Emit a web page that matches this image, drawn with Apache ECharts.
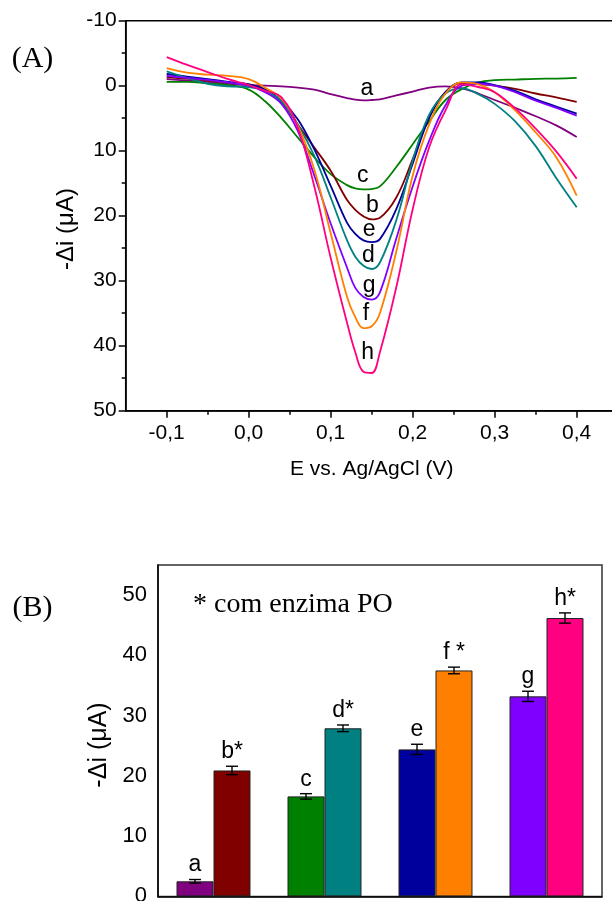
<!DOCTYPE html>
<html>
<head>
<meta charset="utf-8">
<script src="https://cdn.jsdelivr.net/npm/echarts@6/dist/echarts.min.js"></script>
<style>
  html, body { margin: 0; padding: 0; background: #fff; }
  #chart { width: 612px; height: 901px; }
</style>
</head>
<body>
<div id="chart"></div>
<script>
// panel (A): differential pulse voltammograms, -delta i (uA) vs E (V)
const potentials = [-0.1, -0.075, -0.05, -0.025, 0, 0.02, 0.04, 0.06, 0.08, 0.10, 0.12, 0.13, 0.14, 0.15, 0.16, 0.18, 0.20, 0.22, 0.24, 0.26, 0.28, 0.30, 0.325, 0.35, 0.375, 0.40];
const currentA = [-1.0, -0.8, -0.6, -0.3, -0.1, 0.0, 0.1, 0.3, 0.6, 1.3, 1.9, 2.15, 2.25, 2.2, 2.1, 1.5, 0.9, 0.3, 0.1, 0.4, 1.2, 2.2, 3.4, 4.7, 6.1, 7.9];
const currentB = [-1.3, -1.1, -0.8, -0.5, -0.2, 0.6, 2.5, 6.0, 9.5, 13.1, 17.6, 19.1, 20.1, 20.55, 20.3, 17.2, 11.3, 4.8, 1.0, -0.4, -0.3, 0.0, 0.5, 1.2, 1.8, 2.5];
const currentC = [-0.6, -0.6, -0.35, -0.1, 0.6, 2.4, 5.0, 8.0, 11.0, 13.6, 15.3, 15.8, 15.95, 15.9, 15.5, 12.5, 9.0, 5.5, 2.2, 0.5, -0.5, -0.85, -0.95, -1.05, -1.1, -1.2];
const currentD = [-2.2, -1.2, -0.3, 0.1, 0.2, 0.8, 2.4, 6.0, 10.8, 17.2, 23.8, 26.3, 27.7, 28.2, 27.2, 20.7, 11.5, 4.5, 1.2, 0.4, 1.3, 2.8, 5.5, 9.3, 14.2, 18.7];
const currentE = [-1.8, -1.4, -1.0, -0.6, -0.2, 0.6, 2.3, 5.2, 9.8, 15.4, 21.1, 22.8, 23.8, 24.05, 23.6, 19.0, 12.0, 5.0, 1.0, -0.5, -0.5, -0.1, 0.8, 2.1, 3.2, 4.3];
const currentF = [-2.7, -2.0, -1.7, -1.5, -1.0, 0.3, 2.0, 6.2, 12.9, 22.7, 32.5, 35.6, 37.3, 37.0, 35.0, 25.5, 13.8, 6.0, 1.2, -0.5, -0.2, 1.0, 3.8, 7.2, 11.0, 16.9];
const currentG = [-1.5, -1.2, -0.9, -0.5, 0.0, 1.0, 2.8, 7.0, 13.8, 21.2, 28.0, 31.1, 32.5, 32.9, 31.8, 23.5, 15.5, 8.5, 3.0, 0.0, -0.3, 0.0, 1.0, 2.3, 3.4, 4.6];
const currentH = [-4.4, -3.2, -2.1, -1.0, -0.1, 0.8, 1.8, 6.5, 15.5, 26.5, 36.5, 41.0, 44.0, 44.2, 41.0, 31.0, 19.0, 9.5, 3.8, -0.2, 0.2, 1.0, 3.5, 6.6, 10.1, 14.3];
const xTicksA = [-0.1, 0, 0.1, 0.2, 0.3, 0.4];
const xMinorA = [-0.05, 0.05, 0.15, 0.25, 0.35];

// panel (B): peak currents, without / with the PO enzyme
const groups = ['a/b', 'c/d', 'e/f', 'g/h'];
const withoutEnzyme = [2.5, 16.6, 24.4, 33.2];
const withEnzyme = [20.9, 27.9, 37.5, 46.2];
const errWithout = [0.3, 0.45, 0.85, 0.85];
const errWith = [0.7, 0.55, 0.55, 0.85];
const labelsWithout = ['a', 'c', 'e', 'g'];
const labelsWith = ['b*', 'd*', 'f *', 'h*'];
const yTicksB = [0, 10, 20, 30, 40, 50];
const yMinorB = [5, 15, 25, 35, 45];

const SANS = '"Liberation Sans", Arial, sans-serif';
const SERIF = '"Liberation Serif", "Times New Roman", serif';
const BLACK = '#000';

const curves = [
  { name: 'a', values: currentA, color: '#800080', at: [0.144, 0.5] },
  { name: 'c', values: currentC, color: '#008000', at: [0.139, 13.8] },
  { name: 'b', values: currentB, color: '#800000', at: [0.151, 18.4] },
  { name: 'e', values: currentE, color: '#00009c', at: [0.147, 22.2] },
  { name: 'd', values: currentD, color: '#008080', at: [0.146, 26.1] },
  { name: 'g', values: currentG, color: '#8000ff', at: [0.147, 30.7] },
  { name: 'f', values: currentF, color: '#ff8000', at: [0.143, 35.1] },
  { name: 'h', values: currentH, color: '#ff0080', at: [0.145, 41.0] }
];
const colorsWithout = ['#800080', '#008000', '#00009c', '#8000ff'];
const colorsWith = ['#800000', '#008080', '#ff8000', '#ff0080'];

const commaFmt = v => v.toFixed(1).replace('.', ',');
const axisLine = { show: true, onZero: false, lineStyle: { color: BLACK, width: 1.5 } };
const noLine = { show: false, onZero: false };

const lineSeries = curves.map(c => ({
  type: 'line',
  xAxisIndex: 0,
  yAxisIndex: 0,
  data: potentials.map((e, i) => [e, c.values[i]]),
  smooth: 0.4,
  symbol: 'none',
  lineStyle: { color: c.color, width: 1.8 },
  markPoint: {
    symbol: 'circle',
    symbolSize: 1,
    itemStyle: { color: 'transparent' },
    label: { show: true, position: 'inside', formatter: c.name, color: BLACK, fontFamily: SANS, fontSize: 23 },
    data: [{ coord: c.at }]
  }
}));

function errorSeries(values, errs, labels, side) {
  return {
    type: 'custom',
    xAxisIndex: 2,
    yAxisIndex: 1,
    z: 5,
    data: values.map((v, i) => [i, v, errs[i]]),
    renderItem(params, api) {
      const i = api.value(0), v = api.value(1), e = api.value(2);
      const band = api.size([1, 0])[0];
      const x = api.coord([i, v])[0] + side * band / 6;
      const top = api.coord([i, v + e])[1];
      const bot = api.coord([i, v - e])[1];
      const st = { stroke: BLACK, lineWidth: 1.4 };
      return {
        type: 'group',
        children: [
          { type: 'line', shape: { x1: x, y1: top, x2: x, y2: bot }, style: st },
          { type: 'line', shape: { x1: x - 6, y1: top, x2: x + 6, y2: top }, style: st },
          { type: 'line', shape: { x1: x - 6, y1: bot, x2: x + 6, y2: bot }, style: st },
          {
            type: 'text', x: x, y: top - 3,
            style: { text: labels[params.dataIndex], textAlign: 'center', textVerticalAlign: 'bottom',
                     font: '23px ' + SANS, fill: BLACK }
          }
        ]
      };
    }
  };
}

function barSeries(values, colors) {
  return {
    type: 'bar',
    xAxisIndex: 2,
    yAxisIndex: 1,
    barWidth: '33.33%',
    barGap: '0%',
    data: values.map((v, i) => ({ value: v, itemStyle: { color: colors[i] } })),
    itemStyle: { borderColor: '#222', borderWidth: 1 }
  };
}

const chart = echarts.init(document.getElementById('chart'));
chart.setOption({
  backgroundColor: '#fff',
  animation: false,
  grid: [
    { left: 125.7, top: 20.7, width: 492, height: 390, outerBoundsMode: 'none', containLabel: false,
      show: true, borderColor: BLACK, borderWidth: 1.5 },
    { left: 158, top: 565, width: 444, height: 331.4, outerBoundsMode: 'none', containLabel: false,
      show: true, borderColor: '#333', borderWidth: 1.5 }
  ],
  xAxis: [
    {
      type: 'value', gridIndex: 0, position: 'bottom', min: -0.15, max: 0.45,
      axisLine,
      axisTick: { customValues: xTicksA, length: 7, lineStyle: { color: BLACK, width: 1.5 } },
      axisLabel: { customValues: xTicksA, formatter: commaFmt, color: BLACK, fontFamily: SANS, fontSize: 21, margin: 12 },
      splitLine: { show: false },
      name: 'E vs. Ag/AgCl (V)', nameLocation: 'middle', nameGap: 48,
      nameTextStyle: { color: BLACK, fontFamily: SANS, fontSize: 21 }
    },
    {
      type: 'value', gridIndex: 0, position: 'bottom', min: -0.15, max: 0.45,
      axisLine: noLine,
      axisTick: { customValues: xMinorA, length: 4, lineStyle: { color: BLACK, width: 1.5 } },
      axisLabel: { show: false },
      splitLine: { show: false }
    },
    {
      type: 'category', gridIndex: 1, data: groups,
      axisLine, axisTick: { show: false }, axisLabel: { show: false }
    }
  ],
  yAxis: [
    {
      type: 'value', gridIndex: 0, position: 'left', inverse: true, min: -10, max: 50, interval: 10,
      axisLine,
      axisTick: { length: 7, lineStyle: { color: BLACK, width: 1.5 } },
      minorTick: { show: true, splitNumber: 2, length: 4, lineStyle: { color: BLACK, width: 1.5 } },
      axisLabel: { color: BLACK, fontFamily: SANS, fontSize: 21, margin: 9 },
      splitLine: { show: false }
    },
    {
      type: 'value', gridIndex: 1, position: 'left', min: 0, max: 55,
      axisLine,
      axisTick: { customValues: yTicksB, length: 7, lineStyle: { color: BLACK, width: 1.5 } },
      axisLabel: { customValues: yTicksB, color: BLACK, fontFamily: SANS, fontSize: 22, margin: 11 },
      splitLine: { show: false }
    },
    {
      type: 'value', gridIndex: 1, position: 'left', min: 0, max: 55,
      axisLine: noLine,
      axisTick: { customValues: yMinorB, length: 4, lineStyle: { color: BLACK, width: 1.5 } },
      axisLabel: { show: false },
      splitLine: { show: false }
    }
  ],
  graphic: [
    { type: 'text', x: 32.5, y: 59.5, style: { text: '(A)', font: '30px ' + SERIF, fill: BLACK, textAlign: 'center', textVerticalAlign: 'middle' } },
    { type: 'text', x: 32.5, y: 608, style: { text: '(B)', font: '30px ' + SERIF, fill: BLACK, textAlign: 'center', textVerticalAlign: 'middle' } },
    { type: 'text', x: 66, y: 229, rotation: Math.PI / 2, style: { text: '-\u0394i (\u03bcA)', font: '24px ' + SANS, fill: BLACK, textAlign: 'center', textVerticalAlign: 'middle' } },
    { type: 'text', x: 99, y: 745, rotation: Math.PI / 2, style: { text: '-\u0394i (\u03bcA)', font: '25px ' + SANS, fill: BLACK, textAlign: 'center', textVerticalAlign: 'middle' } },
    { type: 'text', x: 193, y: 605, style: { text: '* com enzima PO', font: '28px ' + SERIF, fill: BLACK, textAlign: 'left', textVerticalAlign: 'middle' } }
  ],
  series: [
    ...lineSeries,
    barSeries(withoutEnzyme, colorsWithout),
    barSeries(withEnzyme, colorsWith),
    errorSeries(withoutEnzyme, errWithout, labelsWithout, -1),
    errorSeries(withEnzyme, errWith, labelsWith, 1)
  ]
});
</script>
</body>
</html>
